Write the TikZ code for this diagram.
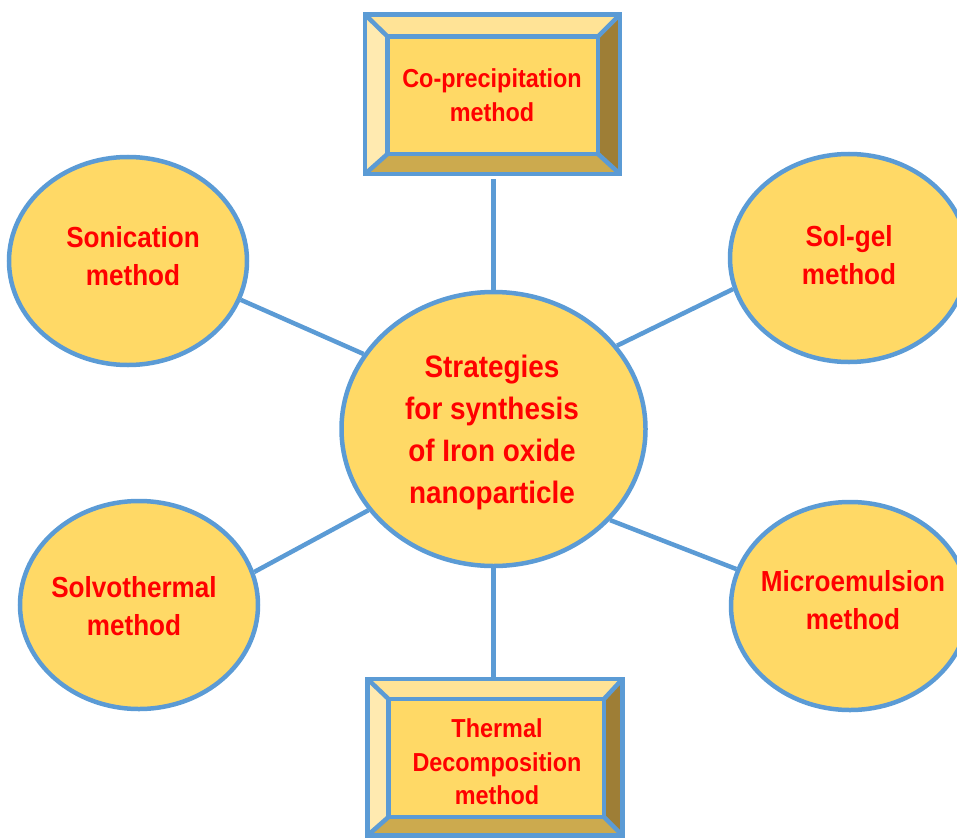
\documentclass[tikz,border=0pt]{standalone}
\usepackage{fontspec}
\newfontfamily\lbl[FakeStretch=0.9]{Liberation Sans}
\usetikzlibrary{shapes.geometric}
\definecolor{bl}{HTML}{5B9BD5}
\definecolor{gold}{HTML}{FFD966}
\definecolor{bvtop}{HTML}{FFE396}
\definecolor{bvleft}{HTML}{FFEAB0}
\definecolor{bvright}{HTML}{9E7E36}
\definecolor{bvbot}{HTML}{CCAA4E}
\definecolor{txt}{HTML}{FF0000}
\begin{document}
\begin{tikzpicture}[x=1pt,y=-1pt,
  bub/.style={ellipse, draw=bl, line width=4.5pt, fill=gold, inner sep=0pt,
    minimum width=238pt, minimum height=208pt},
  hub/.style={bub, minimum width=304pt, minimum height=274pt},
  bubtext/.style={align=center, text=txt, inner sep=0pt,
    font=\lbl\bfseries\fontsize{29}{38}\selectfont},
  hubtext/.style={align=center, text=txt, inner sep=0pt,
    font=\lbl\bfseries\fontsize{31}{42}\selectfont},
  boxtext/.style={align=center, text=txt, inner sep=0pt,
    font=\lbl\bfseries\fontsize{26}{33.5}\selectfont},
  boxarea/.style={rectangle, inner sep=0pt},
  bevline/.style={draw=bl, line width=4.5pt, line join=miter},
  link/.style={draw=bl, line width=4.5pt}]
\useasboundingbox (0,0) rectangle (957,837);

% ---- top bevel box
\fill[bvtop] (365,14.5) -- (620,14.5) -- (598,36.5) -- (387.5,36.5) -- cycle;
\fill[bvleft] (365,14.5) -- (387.5,36.5) -- (387.5,154) -- (365,174) -- cycle;
\fill[bvright] (620,14.5) -- (620,174) -- (598,154) -- (598,36.5) -- cycle;
\fill[bvbot] (365,174) -- (387.5,154) -- (598,154) -- (620,174) -- cycle;
\fill[gold] (387.5,36.5) rectangle (598,154);
\draw[bevline] (365,14.5) -- (387.5,36.5) (620,14.5) -- (598,36.5)
  (365,174) -- (387.5,154) (620,174) -- (598,154);
\draw[bevline] (365,14.5) rectangle (620,174);
\draw[bevline] (387.5,36.5) rectangle (598,154);
\node[boxarea, minimum width=255pt, minimum height=159.5pt] (cp) at (492.5,94.25) {};
\node[boxtext] (cpt) at (492,95) {Co-precipitation\\method};

% ---- bottom bevel box
\fill[bvtop] (367.5,679) -- (622.5,679) -- (604,699) -- (388.5,699) -- cycle;
\fill[bvleft] (367.5,679) -- (388.5,699) -- (388.5,817) -- (367.5,835.5) -- cycle;
\fill[bvright] (622.5,679) -- (622.5,835.5) -- (604,817) -- (604,699) -- cycle;
\fill[bvbot] (367.5,835.5) -- (388.5,817) -- (604,817) -- (622.5,835.5) -- cycle;
\fill[gold] (388.5,699) rectangle (604,817);
\draw[bevline] (367.5,679) -- (388.5,699) (622.5,679) -- (604,699)
  (367.5,835.5) -- (388.5,817) (622.5,835.5) -- (604,817);
\draw[bevline] (367.5,679) rectangle (622.5,835.5);
\draw[bevline] (388.5,699) rectangle (604,817);
\node[boxarea, minimum width=255pt, minimum height=156.5pt] (td) at (495,757.25) {};
\node[boxtext] (tdt) at (497,762) {Thermal\\Decomposition\\method};

% ---- ellipses
\node[hub] (c) at (493.5,429) {};
\node[bub] (s) at (128,261) {};
\node[bub] (g) at (849,258) {};
\node[bub] (v) at (139,605) {};
\node[bub] (m) at (850,606) {};

\node[hubtext] (ct) at (492,432) {Strategies\\for synthesis\\of Iron oxide\\nanoparticle};
\node[bubtext] (st) at (133,256) {Sonication\\method};
\node[bubtext] (gt) at (849,255) {Sol-gel\\method};
\node[bubtext] (vt) at (134,606) {Solvothermal\\method};
\node[bubtext] (mt) at (853,600) {Microemulsion\\method};

% ---- connectors
\draw[link] ([yshift=-5pt]cp.south -| c.north) -- (c.north);
\draw[link] (c.south) -- (c.south |- td.north);
\draw[link] (c.150) -- (s.-19);
\draw[link] (c.34) -- (g.-165);
\draw[link] (c.-147) -- (v.16);
\draw[link] (c.-38) -- (m.162);
\end{tikzpicture}
\end{document}
